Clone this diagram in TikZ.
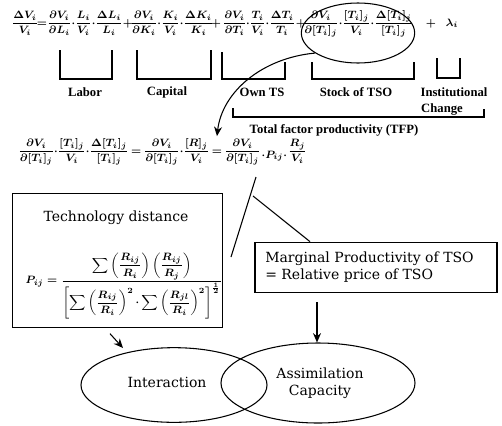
\documentclass[tikz,border=0pt]{standalone}
\usepackage{amsmath}
\usepackage{fontspec}
\setmainfont{DejaVu Serif}
\newfontfamily\labfont{Liberation Serif}
\usetikzlibrary{arrows.meta,shapes.geometric}
\newcommand{\mdot}{\mathord{\cdot}}
\begin{document}
\begin{tikzpicture}[x=0.75pt,y=-0.75pt,
  eq/.style={inner sep=0pt, anchor=base, font=\fontsize{8.5}{10}\selectfont\boldmath},
  eqc/.style={eq, anchor=base west},
  lab/.style={inner sep=0pt, font=\labfont\bfseries\fontsize{9.5}{11}\selectfont},
  brk/.style={line width=0.8pt},
  conn/.style={line width=0.8pt},
  arr/.style={line width=0.8pt,-{Stealth[length=7pt,width=6pt]}},
  txt/.style={inner sep=0pt, font=\fontsize{10.5}{13}\selectfont},
  ovl/.style={draw, ellipse, inner sep=0pt, line width=0.8pt},
  boxed/.style={draw, line width=0.8pt, inner sep=0pt}]
\useasboundingbox (0,0) rectangle (502,425);
% top equation
\node[eq] (lhs) at (25,26) {$\dfrac{\Delta V_i}{V_i}$};
\node[eq] (eqa) at (42,26) {$=$};
\node[eq] (t1) at (85,26) {$\dfrac{\partial V_i}{\partial L_i}\mdot\dfrac{L_i}{V_i}\mdot\dfrac{\Delta L_i}{L_i}$};
\node[eq] (p1) at (128,26) {$+$};
\node[eq] (t2) at (172,26) {$\dfrac{\partial V_i}{\partial K_i}\mdot\dfrac{K_i}{V_i}\mdot\dfrac{\Delta K_i}{K_i}$};
\node[eq] (p2) at (216,26) {$+$};
\node[eq] (t3) at (259,26) {$\dfrac{\partial V_i}{\partial T_i}\mdot\dfrac{T_i}{V_i}\mdot\dfrac{\Delta T_i}{T_i}$};
\node[eq] (p3) at (301,26) {$+$};
\node[eq] (t4) at (358,26) {$\dfrac{\partial V_i}{\partial[T_i]_j}\mdot\dfrac{[T_i]_j}{V_i}\mdot\dfrac{\Delta[T_i]_j}{[T_i]_j}$};
\node[eq] (p4) at (431,26) {$+$};
\node[eq] (lam) at (452,26) {$\lambda_i$};
\node[ovl, minimum width=85pt, minimum height=45pt] (ell) at (358,33) {};
% brackets
\draw[brk] (60,50) -- (60,79) -- (112,79) -- (112,50);
\node[lab] (labor) at (85,92) {Labor};
\draw[brk] (137,50) -- (137,79) -- (211,79) -- (211,50);
\node[lab] (capital) at (167,92) {Capital};
\draw[brk] (222,52) -- (222,79) -- (285,79) -- (285,62);
\node[lab] (ownts) at (262,92) {Own TS};
\draw[brk] (312,62) -- (312,79) -- (414,79) -- (414,62);
\node[lab] (stock) at (356,92) {Stock of TSO};
\draw[brk] (437,58) -- (437,78) -- (460,78) -- (460,58);
\node[lab] (inst) at (454,92) {Institutional};
\node[lab] (change) at (442,109) {Change};
\draw[brk] (233,108) -- (233,117) -- (484,117) -- (484,109);
\node[lab] (tfp) at (334,130) {Total factor productivity (TFP)};
% second equation (chained)
\node[eqc] (e2a) at (18,154) {$\dfrac{\partial V_i}{\partial[T_i]_j}\mdot\dfrac{[T_i]_j}{V_i}\mdot\dfrac{\Delta[T_i]_j}{[T_i]_j}$};
\node[eqc] (e2q1) at ([xshift=1.5pt]e2a.base east) {$=$};
\node[eqc] (e2b) at ([xshift=1.5pt]e2q1.base east) {$\dfrac{\partial V_i}{\partial[T_i]_j}\mdot\dfrac{[R]_j}{V_i}$};
\node[eqc] (e2q2) at ([xshift=1.5pt]e2b.base east) {$=$};
\node[eqc] (e2c) at ([xshift=1.5pt]e2q2.base east) {$\dfrac{\partial V_i}{\partial[T_i]_j}$};
\node[eqc] (e2p) at ([xshift=0.5pt,yshift=-3pt]e2c.base east) {$\mdot P_{ij}\mdot$};
\node[eqc] (e2d) at ([xshift=0.5pt,yshift=3pt]e2p.base east) {$\dfrac{R_j}{V_i}$};
\coordinate (tip) at ([yshift=10pt]e2q2.north);
\draw[arr] (ell.205) .. controls (262,58) and (222,92) .. (tip);
% technology distance box
\node[boxed, minimum width=158pt, minimum height=100pt] (tech) at (117.5,260.5) {};
\node[txt] (techt) at (116,218) {Technology distance};
\node[eq, anchor=center] (pij) at (124,286) {$P_{ij}=\dfrac{\displaystyle\sum\left(\frac{R_{ij}}{R_i}\right)\left(\frac{R_{ij}}{R_j}\right)}{\left[\displaystyle\sum\left(\frac{R_{ij}}{R_i}\right)^{2}\mdot\sum\left(\frac{R_{jl}}{R_i}\right)^{2}\right]^{\frac{1}{2}}}$};
% marginal productivity box
\node[boxed, minimum width=181.5pt, minimum height=38pt] (marg) at (376,267.5) {};
\node[txt, anchor=west, align=left] (margt) at (265,267) {Marginal Productivity of TSO\\= Relative price of TSO};
% connectors from P_ij
\coordinate (l1a) at (256,177);
\coordinate (l1b) at (231,257);
\coordinate (l2a) at (253,196);
\draw[conn] (l1a) -- (l1b);
\draw[conn] (l2a) -- (marg.north west -| 310,242);
% ellipses
\node[ovl, minimum width=139.5pt, minimum height=56pt] (inter) at (174,385) {};
\node[ovl, minimum width=145.5pt, minimum height=60pt] (assim) at (318,383) {};
\node[txt] (intert) at (167,382) {Interaction};
\node[txt, align=center] (assimt) at (320,383) {Assimilation\\Capacity};
% arrows to ellipses
\draw[arr] (tech.south -| 110,0) ++(0,6) -- (123,348);
\draw[arr] (marg.south -| 317,0) ++(0,9) -- (assim.north -| 317,0);
\end{tikzpicture}
\end{document}
